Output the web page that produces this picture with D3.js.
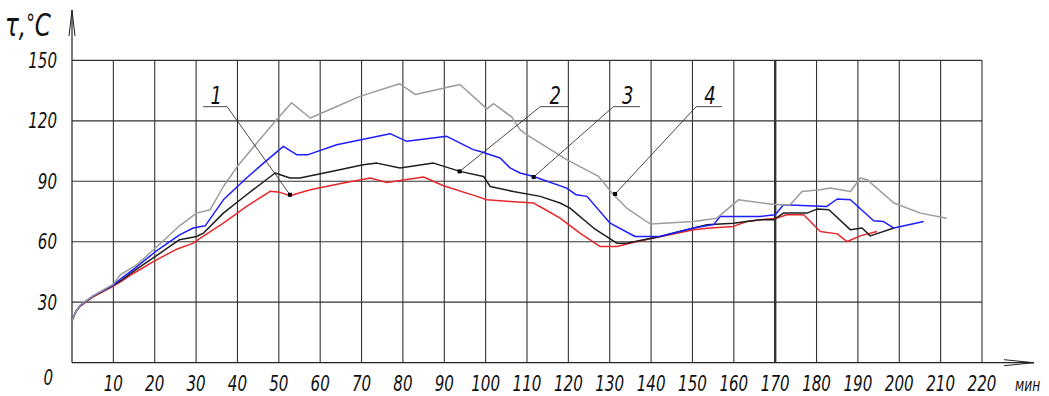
<!DOCTYPE html>
<html>
<head>
<meta charset="utf-8">
<script src="https://cdn.jsdelivr.net/npm/d3@7"></script>
<style>
  body { margin: 0; background: #fff; }
  svg text { font-family: 'DejaVu Sans Condensed', 'DejaVu Sans', sans-serif; font-style: italic; fill: #111; }
</style>
</head>
<body>
<div id="chart"></div>
<script>
const svgWidth = 1049;
const svgHeight = 396;

// time, min
const xTicks = [10, 20, 30, 40, 50, 60, 70, 80, 90, 100, 110, 120, 130, 140, 150, 160, 170, 180, 190, 200, 210, 220];
// temperature, C
const yTicks = [30, 60, 90, 120, 150];

// curve 1 (red)
const curve1 = [[0, 21], [1, 25.5], [2, 28], [5, 32.5], [10, 38], [12, 40.5], [15, 44.5], [20, 50.5], [25, 56], [29.3, 59.3],
  [31, 61.8], [36.6, 69.2], [42.2, 77.5], [47.9, 85], [50.3, 84.5], [52.7, 82.8], [57.6, 85.8], [65.6, 89.1], [72.1, 91.6],
  [76.1, 89.4], [85, 92.1], [89.8, 87.8], [97.9, 82.5], [100.3, 80.8], [105.9, 80], [111.6, 79.2], [114.8, 75.5], [118, 71.7],
  [122.8, 64.3], [127.7, 57.6], [131.7, 57.6], [136.6, 60.1], [143, 62.9], [150.3, 65.9], [154.3, 66.8], [159.9, 67.6],
  [163.1, 70], [166.4, 70.9], [170.4, 71.7], [172.8, 73.4], [176.9, 73.4], [180.9, 65.1], [185, 63.9], [187.4, 60.1],
  [190.6, 62.9], [194.6, 65.1]];

// curve 2 (black)
const curve2 = [[0, 21], [1, 25.5], [2, 28.3], [5, 32.8], [10, 38.5], [12, 41], [15, 45.5], [20, 52.5], [26, 61], [30.1, 62.6],
  [31.8, 64.3], [36.6, 74.2], [42.2, 83.3], [49.1, 94.1], [52.7, 91.6], [55.1, 91.6], [63, 95], [70.4, 98.2], [73.7, 99],
  [79.3, 96.6], [87.4, 99], [93.8, 94.9], [99.5, 92.4], [101.1, 87.4], [106.7, 84.9], [113.2, 82.5], [118, 79.2], [120.4, 76.7],
  [126.1, 66.8], [131.7, 59.3], [134.1, 59.3], [142.1, 62.6], [150.3, 66.8], [153.5, 68.4], [159.9, 69.2], [166.4, 70.9],
  [169.6, 70.9], [172, 74.2], [177.7, 74.2], [180.1, 76.2], [183, 75.9], [188.2, 65.9], [191, 66.8], [193, 62.9], [198.7, 66.8]];

// curve 3 (blue)
const curve3 = [[0, 21], [1, 25.5], [2, 28.5], [5, 33], [10, 38.6], [12, 42], [15, 46.5], [20, 54.8], [26, 63.4], [29.3, 66.8],
  [32.2, 67.9], [36.6, 80.8], [42.2, 91.6], [46.3, 99], [51.1, 107.3], [54.3, 103.2], [57.1, 103.2], [64, 108.1], [76.9, 113.6],
  [80.9, 109.8], [90.6, 112.3], [97, 105.7], [98.7, 104.8], [103.5, 101.5], [105.9, 96.6], [108.3, 94.1], [111.6, 92.4],
  [119.6, 86.6], [121.9, 83.3], [124.5, 82.5], [130.1, 69.2], [136.1, 62.6], [142.1, 62.6], [150.3, 66.8], [155.1, 68.5],
  [156.7, 72.5], [166.4, 72.5], [170, 73.4], [172, 78.3], [182.5, 77.5], [185, 81.2], [188.2, 80.8], [193.8, 70.4],
  [196.2, 70], [198.7, 66.8], [205.9, 70]];

// curve 4 (gray)
const curve4 = [[0, 21], [1, 25.5], [2, 28.5], [5, 33], [10, 39], [11.6, 43.5], [15.6, 48.5], [19.7, 56], [26, 67.9], [30.1, 74.2],
  [33.4, 75.9], [36.6, 87.4], [40, 97.4], [44.7, 109], [49.5, 120.6], [53.1, 128.9], [57.6, 121.4], [63.6, 126.7], [69.6, 132.1],
  [79.2, 138.4], [83, 133], [93.8, 138], [100.3, 125.9], [101.9, 128.5], [106.3, 121.9], [108.3, 115.6], [110, 113],
  [119.6, 100.7], [127.3, 92.4], [129.3, 87.4], [130.9, 83.3], [134.1, 76.7], [139.8, 68.8], [150.3, 70], [155.9, 71.7],
  [161.1, 80.8], [170.4, 78.3], [173.6, 78.3], [176.5, 84.9], [180.9, 85.8], [183.3, 86.6], [188.2, 84.9], [190.6, 91.6],
  [192.2, 90.8], [198.7, 79.2], [205.1, 74.2], [211.5, 71.7]];

const curves = [curve1, curve2, curve3, curve4];
const curveColors = ["#e8262b", "#1e1e1e", "#1d1dff", "#9c9c9c"];

// callouts: label, point on the curve, shelf [t from, t to]
const calloutLabels = ["1", "2", "3", "4"];
const calloutPoints = [[52.7, 83.3], [93.7, 94.9], [111.6, 92.1], [131.3, 83.7]];
const calloutShelves = [[31.7, 37.5], [113.2, 120], [130.9, 137.3], [150.9, 157.1]];
const calloutShelfLevel = 127;

const x = d3.scaleLinear().domain([0, 220]).range([72, 982]);
const y = d3.scaleLinear().domain([0, 150]).range([362.7, 60.3]);
const squeeze = 0.8;

const svg = d3.select("#chart").append("svg")
  .attr("width", svgWidth)
  .attr("height", svgHeight);

// narrow drafting-style text
function addText(parent, px, py, str, size, anchor = "start") {
  return parent.append("text")
    .attr("transform", `translate(${px},${py}) scale(${squeeze},1)`)
    .attr("text-anchor", anchor)
    .style("font-size", `${size}px`)
    .text(str);
}

// Grid
const grid = svg.append("g").attr("stroke", "#333").attr("fill", "none");
yTicks.forEach(v => {
  grid.append("line")
    .attr("x1", x(0)).attr("x2", x(220))
    .attr("y1", y(v)).attr("y2", y(v))
    .attr("stroke-width", 1.2);
});
xTicks.forEach(t => {
  grid.append("line")
    .attr("x1", x(t)).attr("x2", x(t))
    .attr("y1", y(0)).attr("y2", y(150))
    .attr("stroke-width", t === 170 ? 2.4 : 1.1);
});

// Axes with arrows
const axes = svg.append("g").attr("stroke", "#222").attr("fill", "none").attr("stroke-width", 1.2);
axes.append("line").attr("x1", x(0)).attr("x2", x(0)).attr("y1", y(0)).attr("y2", 10);
axes.append("path").attr("d", `M${x(0) - 3},36 L${x(0)},10 L${x(0) + 3},36`).attr("stroke-width", 1);
axes.append("line").attr("x1", x(0)).attr("x2", 1034).attr("y1", y(0)).attr("y2", y(0));
axes.append("path").attr("d", `M1004,${y(0) - 3} L1034,${y(0)} L1004,${y(0) + 3}`).attr("stroke-width", 1);

// Tick labels
const xLabels = svg.append("g");
xTicks.forEach(t => addText(xLabels, x(t), 391, t, 21, "middle"));
const yLabels = svg.append("g");
yTicks.forEach(v => addText(yLabels, 57, y(v) + 7.5, v, 21, "end"));

addText(svg, 53, 385, "0", 21, "end");
addText(svg, 1015, 391, "мин", 17);

const title = svg.append("text")
  .attr("transform", `translate(5,36) scale(${squeeze},1)`)
  .style("font-size", "32px");
title.append("tspan").text("τ,");
title.append("tspan").attr("dy", -4).style("font-size", "24px").text("°");
title.append("tspan").attr("dy", 4).text("C");

// Curves
const line = d3.line().x(d => x(d[0])).y(d => y(d[1]));
curves.forEach((c, i) => {
  svg.append("path")
    .datum(c)
    .attr("d", line)
    .attr("fill", "none")
    .attr("stroke", curveColors[i])
    .attr("stroke-width", 1.5)
    .attr("stroke-linejoin", "round");
});

// Callouts
calloutLabels.forEach((label, i) => {
  const [t0, t1] = calloutShelves[i];
  const p = calloutPoints[i];
  const startT = p[0] > t1 ? t1 : t0;
  const g = svg.append("g");
  g.append("path")
    .attr("d", `M${x(t0)},${y(calloutShelfLevel)} L${x(t1)},${y(calloutShelfLevel)} M${x(startT)},${y(calloutShelfLevel)} L${x(p[0])},${y(p[1])}`)
    .attr("fill", "none")
    .attr("stroke", "#333")
    .attr("stroke-width", 0.9);
  g.append("rect")
    .attr("x", x(p[0]) - 2).attr("y", y(p[1]) - 2)
    .attr("width", 4).attr("height", 4)
    .attr("fill", "#000");
  addText(g, x((t0 + t1) / 2) + 1, y(calloutShelfLevel) - 3, label, 25, "middle");
});
</script>
</body>
</html>
